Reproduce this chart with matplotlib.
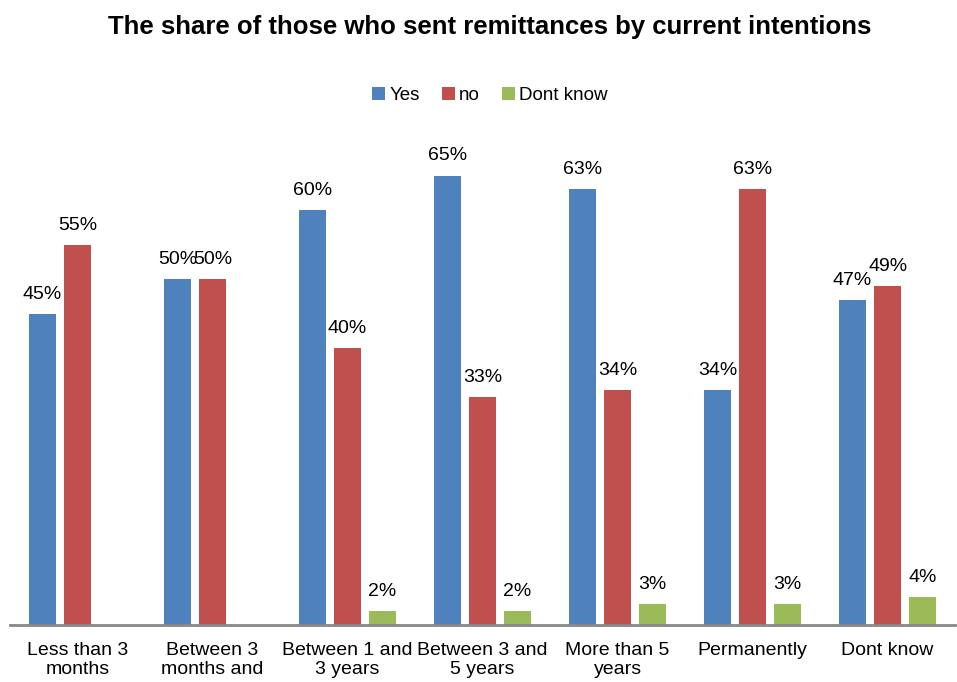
import numpy as np
import matplotlib.pyplot as plt

categories = ['Less than 3\nmonths', 'Between 3\nmonths and', 'Between 1 and\n3 years',
              'Between 3 and\n5 years', 'More than 5\nyears', 'Permanently', 'Dont know']
yes = [45, 50, 60, 65, 63, 34, 47]
no = [55, 50, 40, 33, 34, 63, 49]
dont_know = [None, None, 2, 2, 3, 3, 4]

series = [('Yes', yes, '#4F81BD'), ('no', no, '#C0504D'), ('Dont know', dont_know, '#9BBB59')]

plt.rcParams['font.family'] = ['Liberation Sans', 'DejaVu Sans']

fig = plt.figure(figsize=(9.57, 6.82), dpi=100)
ax = fig.add_axes([0.0104, 0.0836, 0.9876, 0.7097])

x = np.arange(len(categories))
w = 0.2
offsets = [-0.26, 0, 0.26]
for (name, vals, col), off in zip(series, offsets):
    idx = [i for i, v in enumerate(vals) if v is not None]
    h = [vals[i] for i in idx]
    bars = ax.bar(x[idx] + off, h, width=w, color=col, label=name)
    for b, v in zip(bars, h):
        ax.annotate('%d%%' % v, (b.get_x() + b.get_width() / 2, v),
                    xytext=(0, 8), textcoords='offset points',
                    ha='center', va='bottom', fontsize=14)

ax.set_xlim(-0.5, len(categories) - 0.5)
ax.set_ylim(0, 70)
ax.set_xticks(x)
ax.set_xticklabels(categories, fontsize=14, linespacing=1.15)
ax.tick_params(axis='x', length=0, pad=12)
ax.set_yticks([])
for s in ['top', 'right', 'left']:
    ax.spines[s].set_visible(False)
ax.spines['bottom'].set_color('#888888')
ax.spines['bottom'].set_linewidth(2)

fig.text(0.512, 0.96, 'The share of those who sent remittances by current intentions',
         ha='center', va='center', fontsize=18.5, fontweight='bold')
fig.legend(loc='center', bbox_to_anchor=(0.512, 0.86), ncol=3, frameon=False,
           fontsize=13.5, handlelength=0.7, handleheight=0.7, handletextpad=0.2,
           columnspacing=1.2)

fig.savefig('out.png', dpi=100)
